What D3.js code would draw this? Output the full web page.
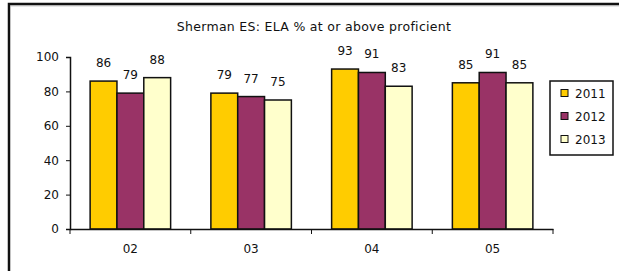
<!DOCTYPE html>
<html>
<head>
<meta charset="utf-8">
<script src="https://cdn.jsdelivr.net/npm/d3@7"></script>
<style>
  body { margin: 0; background: #fff; }
  svg text { font-family: "DejaVu Sans", Arial, sans-serif; fill: #111; }
</style>
</head>
<body>
<svg width="619" height="271"></svg>
<script>
// data
var grades = ['02', '03', '04', '05'];
var years = ['2011', '2012', '2013'];
var scores2011 = [86, 79, 93, 85];
var scores2012 = [79, 77, 91, 91];
var scores2013 = [88, 75, 83, 85];
var yTicks = [0, 20, 40, 60, 80, 100];
var title = 'Sherman ES: ELA % at or above proficient';

var colors = ['#FFCC00', '#993366', '#FFFFCC'];
var series = [scores2011, scores2012, scores2013];

var svg = d3.select('svg'),
	width = +svg.attr('width'),
	height = +svg.attr('height');

// outer chart frame (runs off the right / bottom edge)
svg.append('rect')
	.attr('x', 9).attr('y', 4)
	.attr('width', 700).attr('height', 400)
	.attr('fill', 'none')
	.attr('stroke', '#111')
	.attr('stroke-width', 2.5);
svg.append('line')
	.attr('x1', 10.5).attr('x2', 700).attr('y1', 5.8).attr('y2', 5.8)
	.attr('stroke', '#aaa').attr('stroke-width', 1);

var margin = {left: 70, right: 66, top: 57, bottom: 42};

var x = d3.scaleBand()
	.domain(grades)
	.range([margin.left, width - margin.right]);

var x1 = d3.scaleBand()
	.domain(years)
	.range([0, x.bandwidth()])
	.paddingOuter(0.75);	// bars fill about 2/3 of each group

var y = d3.scaleLinear()
	.domain([0, 100])
	.range([height - margin.bottom, margin.top]);

// title
svg.append('text')
	.attr('x', 314).attr('y', 31)
	.attr('text-anchor', 'middle')
	.style('font-size', '12.5px')
	.style('letter-spacing', '0.3px')
	.text(title);

// bars
var groups = svg.selectAll('g.grade')
	.data(grades)
	.enter().append('g')
	.attr('class', 'grade')
	.attr('transform', function(d) { return 'translate(' + x(d) + ',0)'; });

groups.selectAll('rect')
	.data(function(d, i) {
		return years.map(function(yr, j) { return {year: yr, value: series[j][i], k: j}; });
	})
	.enter().append('rect')
	.attr('x', function(d) { return x1(d.year); })
	.attr('y', function(d) { return y(d.value); })
	.attr('width', x1.bandwidth())
	.attr('height', function(d) { return y(0) - y(d.value); })
	.attr('fill', function(d) { return colors[d.k]; })
	.attr('stroke', '#111')
	.attr('stroke-width', 1.5);

groups.selectAll('text.val')
	.data(function(d, i) {
		return years.map(function(yr, j) { return {year: yr, value: series[j][i]}; });
	})
	.enter().append('text')
	.attr('class', 'val')
	.attr('x', function(d) { return x1(d.year) + x1.bandwidth() / 2; })
	.attr('y', function(d) { return y(d.value) - 14; })
	.attr('text-anchor', 'middle')
	.style('font-size', '12px')
	.text(function(d) { return d.value; });

// y axis
var yAxis = svg.append('g')
	.attr('transform', 'translate(' + margin.left + ',0)')
	.call(d3.axisLeft(y).tickValues(yTicks).tickSize(4).tickPadding(7));
yAxis.selectAll('text').style('font-size', '12px');

// x axis, ticks on group boundaries
var xAxis = svg.append('g')
	.attr('transform', 'translate(0,' + y(0) + ')')
	.call(d3.axisBottom(x).tickSize(0).tickPadding(15));
xAxis.selectAll('text').style('font-size', '12px');
xAxis.selectAll('.bound')
	.data(grades.concat(['end']))
	.enter().append('line')
	.attr('class', 'bound')
	.attr('x1', function(d, i) { return margin.left + i * x.step(); })
	.attr('x2', function(d, i) { return margin.left + i * x.step(); })
	.attr('y1', 0).attr('y2', 5)
	.attr('stroke', '#111');

svg.selectAll('.domain').attr('stroke', '#111').attr('stroke-width', 1.5);
svg.selectAll('.tick line').attr('stroke', '#111');

// legend
var legend = svg.append('g').attr('transform', 'translate(550,81)');
legend.append('rect')
	.attr('width', 63).attr('height', 74)
	.attr('fill', '#fff')
	.attr('stroke', '#111')
	.attr('stroke-width', 1.5);
var items = legend.selectAll('g.item')
	.data(years)
	.enter().append('g')
	.attr('class', 'item')
	.attr('transform', function(d, i) { return 'translate(11,' + (12 + i * 23) + ')'; });
items.append('rect')
	.attr('x', 0).attr('y', -3.5)
	.attr('width', 7).attr('height', 7)
	.attr('fill', function(d, i) { return colors[i]; })
	.attr('stroke', '#111');
items.append('text')
	.attr('x', 14).attr('y', 4.5)
	.style('font-size', '12px')
	.text(function(d) { return d; });
</script>
</body>
</html>
